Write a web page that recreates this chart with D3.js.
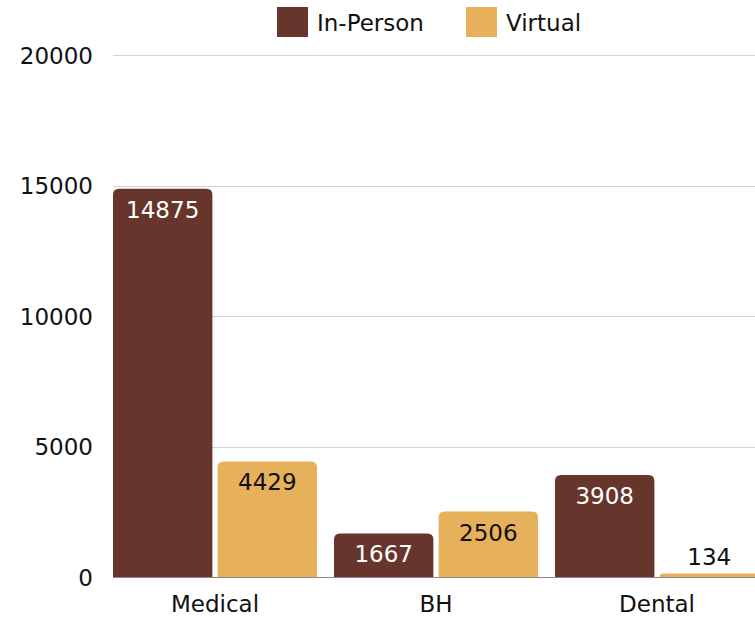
<!DOCTYPE html>
<html>
<head>
<meta charset="utf-8">
<script src="https://cdn.jsdelivr.net/npm/d3@7"></script>
<style>
  body { margin: 0; background: #fff; }
  svg text { font-family: "DejaVu Sans", "Open Sans", sans-serif; }
</style>
</head>
<body>
<div id="chart"></div>
<script>
// chart data
var categories = ["Medical", "BH", "Dental"];
var seriesNames = ["In-Person", "Virtual"];
var inPerson = [14875, 1667, 3908];
var virtual = [4429, 2506, 134];
var yTicks = [0, 5000, 10000, 15000, 20000];
var colors = ["#67352b", "#e7b05a"];
var labelColors = ["#ffffff", "#111111"];

var chartWidth = 755, chartHeight = 617;
var plotLeft = 113, plotBottom = 577, plotTop = 55;
var fontSize = 23;

var svg = d3.select("#chart").append("svg")
    .attr("width", chartWidth)
    .attr("height", chartHeight);

var y = d3.scaleLinear().domain([0, 20000]).range([plotBottom, plotTop]);
var x0 = d3.scaleBand().domain(categories).range([plotLeft, 759]).paddingInner(0.077).paddingOuter(0);
var x1 = d3.scaleBand().domain(seriesNames).range([0, x0.bandwidth()]).paddingInner(0.05);

// gridlines + y labels
var grid = svg.append("g");
grid.selectAll("line")
    .data(yTicks)
    .enter()
    .append("line")
    .attr("x1", plotLeft)
    .attr("x2", chartWidth)
    .attr("y1", function (d) { return Math.round(y(d)) + 0.5; })
    .attr("y2", function (d) { return Math.round(y(d)) + 0.5; })
    .attr("stroke", function (d) { return d === 0 ? "#8a8a8a" : "#d4d4d4"; })
    .attr("stroke-width", 1);
grid.selectAll("text")
    .data(yTicks)
    .enter()
    .append("text")
    .attr("x", 93)
    .attr("y", function (d) { return y(d); })
    .attr("dy", "0.37em")
    .attr("text-anchor", "end")
    .attr("font-size", fontSize)
    .attr("fill", "#111")
    .text(function (d) { return d; });

var rows = categories.map(function (c, i) {
    return { cat: c, values: [inPerson[i], virtual[i]] };
});

function topRounded(x, yTop, w, h, r) {
    r = Math.min(r, h, w / 2);
    return "M" + x + "," + (yTop + h) +
        "V" + (yTop + r) +
        "Q" + x + "," + yTop + " " + (x + r) + "," + yTop +
        "H" + (x + w - r) +
        "Q" + (x + w) + "," + yTop + " " + (x + w) + "," + (yTop + r) +
        "V" + (yTop + h) + "Z";
}

var groups = svg.append("g").selectAll("g")
    .data(rows)
    .enter()
    .append("g")
    .attr("transform", function (d) { return "translate(" + x0(d.cat) + ",0)"; });

groups.selectAll("path")
    .data(function (d) { return d.values.map(function (v, j) { return { v: v, j: j }; }); })
    .enter()
    .append("path")
    .attr("d", function (d) {
        var yt = y(d.v);
        return topRounded(x1(seriesNames[d.j]), yt, x1.bandwidth(), plotBottom - yt, 6);
    })
    .attr("fill", function (d) { return colors[d.j]; });

groups.selectAll("text")
    .data(function (d) { return d.values.map(function (v, j) { return { v: v, j: j }; }); })
    .enter()
    .append("text")
    .attr("x", function (d) { return x1(seriesNames[d.j]) + x1.bandwidth() / 2; })
    .attr("y", function (d) {
        var h = plotBottom - y(d.v);
        return h < 34 ? y(d.v) - 9 : y(d.v) + 29;
    })
    .attr("text-anchor", "middle")
    .attr("font-size", fontSize)
    .attr("fill", function (d) {
        var h = plotBottom - y(d.v);
        return h < 34 ? "#111" : labelColors[d.j];
    })
    .text(function (d) { return d.v; });

// category labels
svg.append("g").selectAll("text")
    .data(categories)
    .enter()
    .append("text")
    .attr("x", function (d) { return x0(d) + x0.bandwidth() / 2; })
    .attr("y", 612)
    .attr("text-anchor", "middle")
    .attr("font-size", fontSize)
    .attr("fill", "#111")
    .text(function (d) { return d; });

// legend
var legendX = [277, 466];
var legend = svg.append("g").selectAll("g")
    .data(seriesNames)
    .enter()
    .append("g")
    .attr("transform", function (d, i) { return "translate(" + legendX[i] + ",7)"; });
legend.append("rect")
    .attr("width", 31)
    .attr("height", 30)
    .attr("fill", function (d, i) { return colors[i]; });
legend.append("text")
    .attr("x", 40)
    .attr("y", 24)
    .attr("font-size", fontSize)
    .attr("fill", "#111")
    .text(function (d) { return d; });
</script>
</body>
</html>
